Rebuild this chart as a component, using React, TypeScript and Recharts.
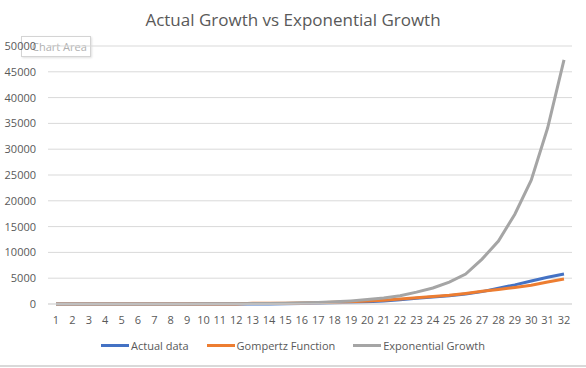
import { LineChart, Line, XAxis, YAxis, CartesianGrid } from 'recharts';

const days = ['1','2','3','4','5','6','7','8','9','10','11','12','13','14','15','16','17','18','19','20','21','22','23','24','25','26','27','28','29','30','31','32'];
const actualData = [0,0,0,0,0,0,0,0,0,0,0,0,10,20,40,80,150,220,320,450,600,800,1100,1350,1600,1950,2400,3050,3700,4450,5200,5800];
const gompertz = [0,0,0,0,0,0,0,0,0,0,0,0,150,150,150,200,250,350,450,600,750,950,1200,1450,1700,2050,2450,2800,3200,3650,4250,4850];
const exponential = [1,2,3,4,5,7,10,15,20,30,40,60,80,115,160,220,300,420,600,850,1150,1600,2300,3100,4250,5800,8700,12200,17400,24000,34100,47300];
const yTicks = [0,5000,10000,15000,20000,25000,30000,35000,40000,45000,50000];

const series = [
  { key: 'actual', name: 'Actual data', color: '#4472C4' },
  { key: 'gompertz', name: 'Gompertz Function', color: '#ED7D31' },
  { key: 'exponential', name: 'Exponential Growth', color: '#A5A5A5' },
];

const chartData = days.map((d, i) => ({
  day: d,
  actual: actualData[i],
  gompertz: gompertz[i],
  exponential: exponential[i],
}));

const font = '"Open Sans", "Liberation Sans", sans-serif';
const tickStyle = { fontSize: 11, fill: '#595959', fontFamily: font };

export default function App() {
  return (
    <div style={{ position: 'absolute', left: 0, top: 0, width: 586, height: 368, background: '#fff', fontFamily: font }}>
      <div style={{ position: 'absolute', top: 8, width: 586, textAlign: 'center', fontSize: 17, color: '#595959' }}>
        Actual Growth vs Exponential Growth
      </div>

      {/* Excel hover tag, drawn under the chart so the tick label stays readable */}
      <div style={{ position: 'absolute', left: 21, top: 36, width: 70, height: 21, border: '1px solid #d4d4d4', background: '#fff', boxShadow: '1px 1px 2px rgba(0,0,0,0.12)', fontSize: 11, color: '#b0b0b0', lineHeight: '19px', paddingLeft: 10, boxSizing: 'border-box', whiteSpace: 'nowrap', overflow: 'hidden' }}>
        Chart Area
      </div>

      <LineChart width={586} height={368} data={chartData} margin={{ top: 46, right: 14, left: 0, bottom: 34 }} style={{ position: 'absolute', left: 0, top: 0 }}>
        <CartesianGrid stroke="#d9d9d9" strokeWidth={1} vertical={false} />
        <XAxis
          dataKey="day"
          tick={tickStyle}
          tickLine={false}
          axisLine={{ stroke: '#d9d9d9' }}
          interval={0}
          padding={{ left: 8, right: 8 }}
          height={30}
          tickMargin={6}
        />
        <YAxis
          width={48}
          domain={[0, 50000]}
          ticks={yTicks}
          tick={tickStyle}
          tickLine={false}
          axisLine={false}
          tickSize={0}
          tickMargin={12}
        />
        {series.map((s) => (
          <Line
            key={s.key}
            type="linear"
            dataKey={s.key}
            name={s.name}
            stroke={s.color}
            strokeWidth={3}
            dot={false}
            isAnimationActive={false}
          />
        ))}
      </LineChart>

      {/* legend */}
      <div style={{ position: 'absolute', top: 338, left: 0, width: 586, display: 'flex', justifyContent: 'center', gap: 18, fontSize: 11, color: '#595959' }}>
        {series.map((s) => (
          <div key={s.key} style={{ display: 'flex', alignItems: 'center' }}>
            <span style={{ display: 'inline-block', width: 28, height: 3, background: s.color, marginRight: 2 }} />
            {s.name}
          </div>
        ))}
      </div>

      <div style={{ position: 'absolute', left: 0, top: 365, width: 586, height: 2, background: '#d9d9d9' }} />
    </div>
  );
}
